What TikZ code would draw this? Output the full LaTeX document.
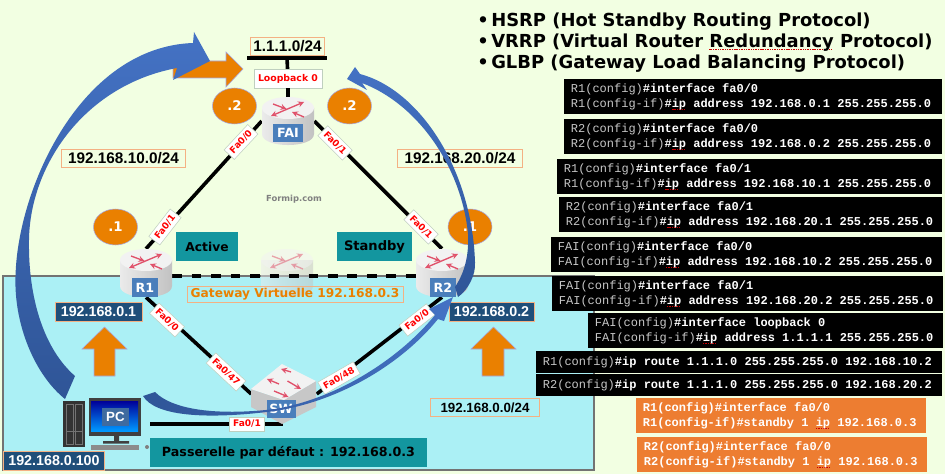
\documentclass[tikz,border=0pt]{standalone}
\usepackage{fontspec}
\usepackage{tikz}
\usetikzlibrary{positioning}
\usetikzlibrary{shapes.geometric}
\setmainfont{Liberation Sans}
\setmonofont{Liberation Mono}
\newfontfamily\widefont{DejaVu Sans}
\definecolor{pagegreen}{HTML}{F2FFE2}
\definecolor{lanblue}{HTML}{ABF0F5}
\definecolor{bubbleorange}{HTML}{EA8000}
\definecolor{tealbox}{HTML}{13969F}
\definecolor{navybox}{HTML}{1F4E79}
\definecolor{peach}{HTML}{F4B183}
\definecolor{iconblue}{HTML}{4A7EBB}
\definecolor{iconred}{HTML}{E0506A}
\definecolor{cfggray}{HTML}{C8C8C8}
\definecolor{cfgorange}{HTML}{ED7D31}
\definecolor{arrowlight}{HTML}{4472C4}
\definecolor{arrowdark}{HTML}{2F5597}
\newcommand{\squig}[1]{\setbox0=\hbox{#1}\rlap{\textcolor{red!80!black}{\leaders\hbox{\rule[-1.5pt]{.8pt}{.35pt}\kern.5pt}\hskip\wd0}}#1}
\newcommand{\cfgline}[2]{\spaceskip=.6em\relax\textcolor{cfggray}{#1}\textbf{\textcolor{white}{#2}}}
\newcommand{\stdline}[2]{\spaceskip=.6em\relax\textbf{\textcolor{white}{#1#2}}}
\tikzset{
  routericon/.pic={
    \shade[left color=black!8,right color=black!24] (-26,-13) -- (-26,13) .. controls (-26,27.7) and (26,27.7) .. (26,13) -- (26,-13) -- cycle;
    \fill[black!5] (0,-13) ellipse [x radius=26,y radius=11];
    \draw[iconred,line width=1pt,<->,>=stealth] (-17,-5) -- (16,-19);
    \draw[iconred,line width=1pt,->,>=stealth] (-15,-17) -- (-1.5,-12);
    \draw[iconred,line width=1pt,->,>=stealth] (16,-4) -- (4,-9);
  },
  switchicon/.pic={
    \fill[black!22] (-33,-5) -- (-33,13) -- (-2,30) -- (32,13) -- (32,-13) -- (0,6) -- cycle;
    \fill[black!5] (-33,-5) -- (-2,-30) -- (32,-13) -- (0,6) -- cycle;
    \draw[iconred,line width=1pt,->,>=stealth] (7,-22) -- (-3,-25);
    \draw[iconred,line width=1pt,->,>=stealth] (-5,-10) -- (-17,-15);
    \draw[iconred,line width=1pt,->,>=stealth] (3.5,-13) -- (17,-5);
    \draw[iconred,line width=1pt,->,>=stealth] (-10,-3) -- (4.5,3);
  }
}
\begin{document}
\begin{tikzpicture}[x=.75pt,y=-.75pt,
    link/.style={line width=2.7pt,black},
    routerbox/.style={minimum width=39pt,minimum height=36pt,inner sep=0pt},
    iconlabel/.style={fill=iconblue,text=white,font=\widefont\bfseries\fontsize{9.5}{11}\selectfont,minimum height=14pt,inner sep=0pt},
    portlabel/.style={fill=white,draw=green!25!black!25,font=\widefont\bfseries\fontsize{6.8}{8}\selectfont,text=red,inner xsep=2.6pt,inner ysep=2.4pt},
    netlabel/.style={draw=peach,fill=pagegreen,line width=.7pt,font=\bfseries\fontsize{11.5}{13}\selectfont,inner sep=0pt,minimum height=14pt},
    hostlabel/.style={draw=peach,fill=navybox,text=white,line width=.5pt,font=\bfseries\fontsize{10.7}{13}\selectfont,inner sep=0pt,minimum height=14pt},
    bubble/.style={ellipse,fill=bubbleorange,draw=black!30!blue!35,text=white,font=\widefont\bfseries\fontsize{10}{12}\selectfont,minimum width=33pt,minimum height=27pt,inner sep=0pt},
    rolebox/.style={fill=tealbox,font=\widefont\bfseries,minimum height=21.5pt,inner sep=0pt},
    orangearrow/.style={fill=bubbleorange,draw=black!30!blue!35,line width=.4pt},
    bluearrow/.style={top color=arrowlight,bottom color=arrowdark,draw=none},
    cfgbox/.style={fill=black,anchor=north west,align=left,inner xsep=5pt,inner ysep=0pt,minimum height=26pt,font=\ttfamily\fontsize{9}{11}\selectfont},
    stdbox/.style={cfgbox,fill=cfgorange},
    titleline/.style={anchor=west,inner sep=0pt,font=\widefont\bfseries\fontsize{13.45}{15}\selectfont}]
  \useasboundingbox (0,0) rectangle (945,474);
  \fill[pagegreen] (0,0) rectangle (945,474);
  \draw[fill=lanblue,draw=black!55,line width=1pt] (3,276) rectangle (594,470);

  \node (fai) [routerbox] at (288,121) {};
  \node (r1) [routerbox] at (146,273) {};
  \node (r2) [routerbox] at (442,273) {};
  \node (vip) [routerbox] at (287,273) {};
  \node (sw) [minimum width=48.75pt,minimum height=45pt,inner sep=0pt] at (284,394) {};
  \node (loopbar) [fill=black,minimum width=60pt,minimum height=2.8pt,inner sep=0pt] at (287,58) {};
  \node (loopback) [fill=white,draw=green!25!black!25,font=\widefont\bfseries\fontsize{7}{9}\selectfont,text=red,minimum width=51pt,minimum height=14pt,inner sep=0pt] at (288,78.5) {Loopback 0};
  \coordinate (pcport) at (150,424);
  \coordinate (swport) at (283,424);

  \draw[orangearrow] (173,61) -- (226,61) -- (226,52) -- (243,69) -- (226,87) -- (226,78) -- (173,78) -- cycle;
  \draw[orangearrow] (104.5,327) -- (127,349) -- (115,349) -- (115,376) -- (94,376) -- (94,349) -- (82,349) -- cycle;
  \draw[orangearrow] (493.5,327) -- (516,349) -- (504,349) -- (504,376) -- (482,376) -- (482,349) -- (471,349) -- cycle;

  \draw[link] (loopbar) -- (loopback);
  \draw[link] (loopback) -- (fai);
  \draw[link] (fai.west) -- (r1.north);
  \draw[link] (fai.east) -- (r2.north);
  \draw[link] (r1.south) -- (sw.west);
  \draw[link] (r2.south) -- (sw.east);
  \draw[link] (pcport) -- (swport);

  \pic[opacity=.5] at (287,273) {routericon};
  \draw[line width=2.6pt,dash pattern=on 7.3pt off 7.3pt] (r1.-7) -- (r2.187);
  \pic at (288,121) {routericon};
  \pic at (146,273) {routericon};
  \pic at (442,273) {routericon};
  \pic at (284,394) {switchicon};
  \node (failabel) [iconlabel,minimum width=22.5pt] at (288,133) {FAI};
  \node (r1label) [iconlabel,minimum width=19.5pt] at (145,287.5) {R1};
  \node (r2label) [iconlabel,minimum width=19.5pt] at (443,287.5) {R2};
  \node (swlabel) [iconlabel,minimum width=21.75pt] at (281,409) {SW};

  % PC
  \fill[black!80] (63,401) rectangle (85,447);
  \draw[black!55,line width=.5pt] (66,404) rectangle (73,444) (75,404) rectangle (82,444) (66,431) -- (82,431);
  \fill[black!75] (89,398) rectangle (140.5,436);
  \shade[top color=blue!60!black,bottom color=cyan!60!blue] (91,401) rectangle (138,431);
  \fill[black!75] (114,436) rectangle (119,441) (103,441) rectangle (129,443.5);
  \fill[black!45] (91,445) rectangle (139,450);
  \fill[black!50] (147,447) circle [radius=2];
  \node (pclabel) [iconlabel,minimum width=20.25pt,fill=iconblue!85!black,font=\bfseries\fontsize{10}{12}\selectfont] at (115.5,417) {PC};

  \node (dot2a) [bubble] at (234.5,106) {.2};
  \node (dot2b) [bubble] at (349.5,106) {.2};
  \node (dot1a) [bubble] at (115.5,227) {.1};
  \node (dot1b) [bubble] at (470,227) {.1};

  \node (lo) [netlabel,minimum width=56pt] at (287.5,46.5) {1.1.1.0/24};
  \node (net10) [netlabel,minimum width=93pt] at (123.5,158.5) {192.168.10.0/24};
  \node (net20) [netlabel,minimum width=94pt] at (460,158.5) {192.168.20.0/24};
  \node (net0) [netlabel,fill=lanblue,minimum width=82pt,font=\bfseries\fontsize{10}{12}\selectfont] at (485,407.5) {192.168.0.0/24};
  \node (formip) [font=\widefont\bfseries\fontsize{6.3}{8}\selectfont,text=black!50,inner sep=0pt] at (294,199) {Formip.com};

  \node (active) [rolebox,minimum width=46.5pt,font=\widefont\bfseries\fontsize{9.2}{11}\selectfont] at (207,246.5) {Active};
  \node (standby) [rolebox,minimum width=56pt,font=\widefont\bfseries\fontsize{9.8}{11}\selectfont] at (374.5,246.5) {Standby};
  \node (gateway) [draw=peach,line width=.5pt,text=bubbleorange,font=\widefont\bfseries\fontsize{9.15}{10}\selectfont,minimum width=162pt,minimum height=12pt,inner sep=0pt] at (295,294) {Gateway Virtuelle 192.168.0.3};
  \node (ipr1) [hostlabel,minimum width=65pt] at (98.5,311.5) {192.168.0.1};
  \node (ipr2) [hostlabel,minimum width=64pt] at (491.5,311.5) {192.168.0.2};
  \node (ippc) [hostlabel,minimum width=76pt] at (54,460.5) {192.168.0.100};
  \node (gwbox) [rolebox,minimum width=208pt,font=\widefont\bfseries\fontsize{9.5}{11}\selectfont] at (288.5,452.5) {Passerelle par défaut : 192.168.0.3};

  \node (p1) [portlabel,rotate=47] at (241,142) {Fa0/0};
  \node (p2) [portlabel,rotate=-45] at (335,143) {Fa0/1};
  \node (p3) [portlabel,rotate=52] at (165,227) {Fa0/1};
  \node (p4) [portlabel,rotate=-45] at (421,227) {Fa0/1};
  \node (p5) [portlabel,rotate=-43] at (167,320) {Fa0/0};
  \node (p6) [portlabel,rotate=-43] at (226,372) {Fa0/47};
  \node (p7) [portlabel,rotate=30] at (339,378) {Fa0/48};
  \node (p8) [portlabel,rotate=38] at (417,320) {Fa0/0};
  \node (p9) [portlabel] at (247,424) {Fa0/1};

  \path[bluearrow] (65,399) .. controls (35,375) and (14,325) .. (15.5,277) .. controls (17,190) and (80,47) .. (193,43) -- (194,32) -- (210,61) -- (173,80) -- (177,68) .. controls (85,85) and (30,165) .. (29,240) .. controls (28,300) and (45,350) .. (75,376) -- cycle;
  \path[left color=arrowdark,right color=arrowlight,draw=none] (143,396) .. controls (155,416) and (205,420) .. (275,411) .. controls (345,400) and (405,360) .. (438,319) -- (444,321) -- (453,297) -- (429,309) -- (435,315) .. controls (402,356) and (340,398) .. (275,409) .. controls (225,415) and (175,412) .. (155,392) -- cycle;
  \path[bluearrow] (347,79) -- (355,67) -- (360,74) .. controls (420,90) and (472,170) .. (475,262) .. controls (476,275) and (468,290) .. (458,297) -- (455,287) .. controls (465,272) and (469,255) .. (468,234) .. controls (462,170) and (420,105) .. (362,83) -- (367,90) -- cycle;

  \node (hsrp) [titleline] at (477,22) {\makebox[10.5pt][l]{\textbullet}HSRP (Hot Standby Routing Protocol)};
  \node (vrrp) [titleline] at (477,43) {\makebox[10.5pt][l]{\textbullet}VRRP (Virtual Router \squig{Redundancy} Protocol)};
  \node (glbp) [titleline] at (477,64) {\makebox[10.5pt][l]{\textbullet}GLBP (Gateway Load Balancing Protocol)};

  \node (cfga) [cfgbox,text width=273.5pt] at (564,79) {\cfgline{R1(config)}{\#interface fa0/0}\\\cfgline{R1(config-if)}{\#\squig{ip} address 192.168.0.1 255.255.255.0}};
  \node (cfgb) [cfgbox,text width=273.5pt] at (564,119) {\cfgline{R2(config)}{\#interface fa0/0}\\\cfgline{R2(config-if)}{\#\squig{ip} address 192.168.0.2 255.255.255.0}};
  \node (cfgc) [cfgbox,text width=278.75pt] at (557,159) {\cfgline{R1(config)}{\#interface fa0/1}\\\cfgline{R1(config-if)}{\#\squig{ip} address 192.168.10.1 255.255.255.0}};
  \node (cfgd) [cfgbox,text width=277.25pt] at (559,197) {\cfgline{R2(config)}{\#interface fa0/1}\\\cfgline{R2(config-if)}{\#\squig{ip} address 192.168.20.1 255.255.255.0}};
  \node (cfge) [cfgbox,text width=283.25pt] at (551,237) {\cfgline{FAI(config)}{\#interface fa0/0}\\\cfgline{FAI(config-if)}{\#\squig{ip} address 192.168.10.2 255.255.255.0}};
  \node (cfgf) [cfgbox,text width=283.25pt] at (552,276) {\cfgline{FAI(config)}{\#interface fa0/1}\\\cfgline{FAI(config-if)}{\#\squig{ip} address 192.168.20.2 255.255.255.0}};
  \node (cfgg) [cfgbox,text width=256.25pt] at (588,313) {\cfgline{FAI(config)}{\#interface loopback 0}\\\cfgline{FAI(config-if)}{\#\squig{ip} address 1.1.1.1 255.255.255.0}};
  \node (cfgh) [cfgbox,text width=294.5pt,minimum height=16pt] at (536,351) {\cfgline{R1(config)}{\#ip route 1.1.1.0 255.255.255.0 192.168.10.2}};
  \node (cfgi) [cfgbox,text width=294.5pt,minimum height=16pt] at (536,374) {\cfgline{R2(config)}{\#ip route 1.1.1.0 255.255.255.0 192.168.20.2}};
  \node (stda) [stdbox,text width=207.5pt] at (636,398) {\stdline{R1(config)}{\#interface fa0/0}\\\stdline{R1(config-if)}{\#standby 1 \squig{ip} 192.168.0.3}};
  \node (stdb) [stdbox,text width=207.5pt] at (637,437) {\stdline{R2(config)}{\#interface fa0/0}\\\stdline{R2(config-if)}{\#standby 1 \squig{ip} 192.168.0.3}};
\end{tikzpicture}
\end{document}
